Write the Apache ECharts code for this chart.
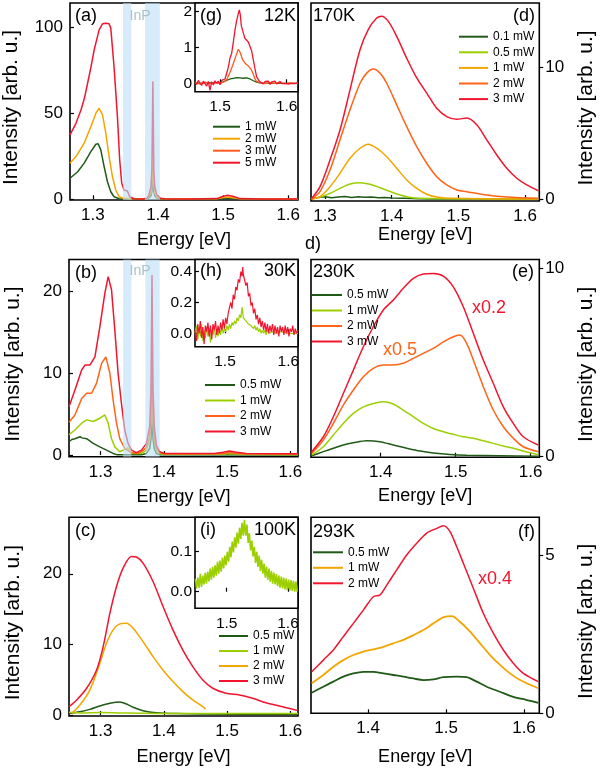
<!DOCTYPE html>
<html><head><meta charset="utf-8">
<script src="https://cdn.jsdelivr.net/npm/echarts@6/dist/echarts.min.js"></script>
<style>html,body{margin:0;padding:0;background:#fff}#c{width:600px;height:769px}</style>
</head><body><div id="c"></div>
<script>
// ---------- DATA (energy [eV], intensity [arb. u.]) ----------
// (a) 12 K main
const a_1mW = [[1.265,12.2],[1.2768,16],[1.2868,21],[1.297,27.7],[1.3047,32],[1.3082,32.2],[1.3123,28.7],[1.3174,19],[1.3225,10.2],[1.3276,4.4],[1.3326,1.5],[1.3403,0.3],[1.3836,0.2],[1.3862,0.8],[1.3892,2],[1.3907,4.5],[1.3922,13.8],[1.3937,4.5],[1.3952,2],[1.3982,0.8],[1.4039,0.2],[1.49,0.2],[1.5058,0.8],[1.5261,0.2],[1.615,0.1]];
const a_2mW = [[1.265,20.9],[1.2742,24.8],[1.2868,32.6],[1.297,42.2],[1.3047,50],[1.3097,52.9],[1.3149,49],[1.32,38.4],[1.325,24.8],[1.3302,13.1],[1.3352,5.4],[1.3403,1.5],[1.3455,0.8],[1.3479,1.0],[1.3555,0.3],[1.3836,0.3],[1.3862,1.2],[1.3892,3.5],[1.3907,8],[1.3922,27.5],[1.3937,8],[1.3952,3.5],[1.3982,1.2],[1.4039,0.3],[1.49,0.3],[1.5058,1.4],[1.5261,0.3],[1.615,0.2]];
const a_5mW = [[1.265,37.4],[1.274,44],[1.2818,51.9],[1.287,58.5],[1.292,67.4],[1.297,76.5],[1.3021,86.8],[1.3097,98.4],[1.3149,101.9],[1.32,102.3],[1.325,101.9],[1.3276,99.4],[1.3326,77],[1.3378,48],[1.3413,22.8],[1.3444,9.4],[1.3479,5.4],[1.3531,4.8],[1.3566,1.5],[1.3632,0.3],[1.375,0.2],[1.3836,0.6],[1.3862,2.5],[1.3892,7],[1.3907,17],[1.3922,68.5],[1.3937,17],[1.3952,7],[1.3982,2.5],[1.4039,0.6],[1.41,0.3],[1.45,0.2],[1.4905,0.4],[1.498,1.5],[1.5058,2.3],[1.515,1.8],[1.5261,0.4],[1.56,0.2],[1.615,0.2]];
// (g) 12 K inset
const g_1mW = [[1.4625,0.0],[1.48,0.01],[1.5,0.02],[1.505,0.04],[1.51,0.08],[1.515,0.12],[1.52,0.14],[1.525,0.16],[1.53,0.15],[1.535,0.14],[1.54,0.15],[1.545,0.12],[1.55,0.07],[1.555,0.03],[1.56,0.01],[1.58,0.0],[1.617,0.0]];
const g_3mW = [[1.4625,0.02],[1.47,-0.02],[1.4775,0.03],[1.485,-0.01],[1.4925,0.02],[1.5,0.0],[1.505,0.03],[1.51,0.1],[1.515,0.3],[1.52,0.55],[1.5245,0.8],[1.5275,0.95],[1.5305,0.85],[1.534,0.65],[1.538,0.55],[1.5425,0.48],[1.547,0.38],[1.55,0.25],[1.5525,0.12],[1.555,0.05],[1.56,0.02],[1.5675,-0.01],[1.575,0.02],[1.5825,0.0],[1.59,0.02],[1.5975,-0.01],[1.605,0.01],[1.6125,0.0],[1.617,0.01]];
const g_5mW = [[1.4625,0.05],[1.465,-0.03],[1.4675,0.08],[1.47,0.0],[1.4725,-0.06],[1.475,0.06],[1.4775,0.02],[1.48,-0.08],[1.4825,0.05],[1.485,-0.2],[1.4875,0.04],[1.49,-0.05],[1.4925,0.07],[1.495,0.0],[1.4975,0.06],[1.5,-0.04],[1.5025,0.08],[1.505,0.03],[1.5075,0.12],[1.51,0.28],[1.5125,0.45],[1.515,0.7],[1.5175,0.84],[1.52,1.15],[1.5225,1.49],[1.525,1.75],[1.5275,1.95],[1.529,2.05],[1.5305,1.9],[1.532,1.6],[1.535,1.4],[1.5375,1.25],[1.54,1.2],[1.5425,1.15],[1.545,1.1],[1.5475,0.9],[1.55,0.65],[1.5525,0.4],[1.555,0.18],[1.5575,0.1],[1.56,0.04],[1.5625,0.08],[1.565,-0.02],[1.5675,0.05],[1.57,0.0],[1.5725,0.06],[1.575,-0.03],[1.5775,0.04],[1.58,0.01],[1.5825,0.06],[1.585,-0.02],[1.5875,0.03],[1.59,0.05],[1.5925,-0.01],[1.595,0.04],[1.5975,0.0],[1.6,0.05],[1.6025,-0.02],[1.605,0.03],[1.6075,0.0],[1.61,0.04],[1.6125,-0.01],[1.617,0.02]];
// (b) 30 K main
const b_05mW = [[1.25,1.63],[1.2545,1.9],[1.2594,2.0],[1.262,2.15],[1.2673,2.24],[1.2705,2.1],[1.2779,2.0],[1.2883,1.43],[1.2988,1.0],[1.3093,0.6],[1.3198,0.2],[1.3251,0.05],[1.3645,0.05],[1.3724,0.2],[1.3776,0.8],[1.3796,2.0],[1.3812,5.3],[1.3828,2.0],[1.3848,0.8],[1.3881,0.2],[1.3933,0.05],[1.612,0.02]];
const b_1mW = [[1.25,2.5],[1.2594,3.06],[1.27,3.9],[1.2779,4.3],[1.2883,4.1],[1.2988,4.5],[1.3067,4.9],[1.3119,3.9],[1.3172,2.0],[1.3224,1.0],[1.3303,0.4],[1.3382,0.7],[1.3434,0.9],[1.346,0.5],[1.3487,0.2],[1.3645,0.2],[1.3724,0.6],[1.3776,1.8],[1.3796,4],[1.3812,10.8],[1.3828,4],[1.3848,1.8],[1.3881,0.6],[1.3933,0.2],[1.4012,0.1],[1.49,0.1],[1.5035,0.2],[1.52,0.1],[1.612,0.05]];
const b_2mW = [[1.25,4.0],[1.2594,4.9],[1.27,6.9],[1.2779,7.55],[1.2857,7.55],[1.2936,8.8],[1.3015,11.2],[1.3083,12.0],[1.3146,10.0],[1.3198,6.7],[1.3251,3.9],[1.3303,2.0],[1.3382,0.8],[1.3487,0.3],[1.3565,0.2],[1.3645,0.4],[1.3724,0.9],[1.3776,2.2],[1.3796,4.5],[1.3812,11.3],[1.3828,4.5],[1.3848,2.2],[1.3881,0.8],[1.3933,0.3],[1.4012,0.15],[1.49,0.15],[1.5035,0.3],[1.52,0.15],[1.612,0.1]];
const b_3mW = [[1.25,5.9],[1.2594,7.96],[1.27,10.4],[1.2752,11.0],[1.2831,11.0],[1.291,12.0],[1.2988,15.7],[1.3067,19.8],[1.3119,21.8],[1.3172,20.2],[1.3224,15.3],[1.3276,10],[1.3329,6.3],[1.3382,3.06],[1.3434,1.43],[1.3487,0.6],[1.3565,0.3],[1.3645,0.6],[1.3724,1.4],[1.3776,3.5],[1.3796,8],[1.3812,22],[1.3828,8],[1.3848,3.5],[1.3881,1.2],[1.3933,0.4],[1.4012,0.2],[1.48,0.2],[1.4935,0.35],[1.5035,0.5],[1.515,0.35],[1.53,0.2],[1.612,0.15]];
// (h) 30 K inset
const h_1mW = [[1.4526,0.0],[1.455,0.05],[1.457,-0.04],[1.459,0.03],[1.461,-0.02],[1.463,0.06],[1.465,-0.05],[1.467,0.02],[1.469,-0.03],[1.471,0.04],[1.473,-0.02],[1.475,0.03],[1.477,-0.06],[1.479,0.02],[1.481,-0.01],[1.483,0.04],[1.485,-0.03],[1.487,0.02],[1.489,-0.02],[1.491,0.03],[1.493,-0.01],[1.495,0.04],[1.497,0.0],[1.499,0.03],[1.501,0.01],[1.503,0.05],[1.505,0.02],[1.507,0.06],[1.509,0.03],[1.511,0.07],[1.513,0.05],[1.515,0.08],[1.517,0.06],[1.519,0.1],[1.521,0.08],[1.523,0.12],[1.525,0.1],[1.527,0.17],[1.529,0.1],[1.531,0.11],[1.533,0.08],[1.535,0.09],[1.537,0.06],[1.539,0.07],[1.541,0.05],[1.543,0.06],[1.545,0.03],[1.547,0.05],[1.549,0.02],[1.551,0.04],[1.553,0.01],[1.555,0.03],[1.557,0.0],[1.559,0.02],[1.561,0.0],[1.563,0.02],[1.565,-0.01],[1.567,0.02],[1.57,0.0],[1.575,0.01],[1.58,0.0],[1.59,0.01],[1.6,0.0],[1.6153,0.0]];
const h_3mW = [[1.4526,0.02],[1.455,-0.05],[1.457,0.06],[1.459,0.0],[1.461,0.08],[1.463,-0.03],[1.465,0.04],[1.467,-0.07],[1.469,0.05],[1.471,0.01],[1.473,0.07],[1.475,-0.02],[1.477,0.05],[1.479,-0.04],[1.481,0.06],[1.483,0.02],[1.485,0.08],[1.487,-0.01],[1.489,0.05],[1.491,0.0],[1.493,0.07],[1.495,0.02],[1.497,0.09],[1.499,0.03],[1.501,0.1],[1.503,0.06],[1.505,0.13],[1.507,0.12],[1.509,0.2],[1.511,0.16],[1.513,0.25],[1.515,0.22],[1.517,0.3],[1.519,0.28],[1.521,0.35],[1.523,0.33],[1.525,0.4],[1.527,0.37],[1.528,0.43],[1.529,0.38],[1.531,0.39],[1.533,0.31],[1.535,0.33],[1.537,0.24],[1.539,0.26],[1.541,0.18],[1.543,0.2],[1.545,0.13],[1.547,0.16],[1.549,0.09],[1.551,0.12],[1.553,0.06],[1.555,0.1],[1.557,0.04],[1.559,0.08],[1.561,0.02],[1.563,0.07],[1.565,0.01],[1.567,0.06],[1.569,0.0],[1.571,0.05],[1.573,0.01],[1.575,0.06],[1.577,-0.01],[1.579,0.05],[1.581,0.0],[1.583,0.04],[1.585,-0.02],[1.587,0.05],[1.589,0.01],[1.591,0.04],[1.593,-0.01],[1.595,0.05],[1.597,0.0],[1.599,0.04],[1.601,-0.02],[1.603,0.03],[1.605,0.01],[1.607,0.05],[1.609,-0.01],[1.611,0.03],[1.613,0.0],[1.6153,0.02]];
// (c) 100 K main
const c_05mW = [[1.25,0.24],[1.2673,0.47],[1.2831,0.8],[1.2988,1.28],[1.3146,1.66],[1.3303,1.84],[1.3409,1.56],[1.3513,1.09],[1.367,0.61],[1.388,0.33],[1.42,0.2],[1.46,0.15],[1.612,0.1]];
const c_1mW = [[1.25,0.4],[1.27,0.3],[1.3,0.35],[1.33,0.3],[1.36,0.25],[1.4,0.2],[1.45,0.2],[1.5,0.22],[1.55,0.2],[1.612,0.2]];
const c_2mW = [[1.2543,0.24],[1.2673,1.42],[1.2831,3.55],[1.2988,7.33],[1.3094,10.2],[1.3198,12.06],[1.3303,12.9],[1.3409,13.0],[1.3513,12.3],[1.367,10.4],[1.3828,8.27],[1.3985,6.38],[1.4143,4.73],[1.43,3.31],[1.4457,2.13],[1.4615,1.18],[1.4657,0.8]];
const c_3mW = [[1.25,1.18],[1.2621,2.13],[1.2779,3.79],[1.2936,6.38],[1.304,9.69],[1.3146,14.4],[1.3251,18.2],[1.3355,20.8],[1.3487,22.45],[1.3566,22.37],[1.367,21.5],[1.3828,18.9],[1.3985,15.4],[1.4143,12.06],[1.43,9.2],[1.4457,6.85],[1.4615,4.96],[1.4772,3.79],[1.4983,3.08],[1.5193,2.84],[1.5402,2.37],[1.5613,1.74],[1.5823,1.28],[1.6085,0.71],[1.612,0.66]];
// (i) 100 K inset
const i_1mW = [[1.449,0.032],[1.451,0.008],[1.453,0.035],[1.455,0.01],[1.457,0.045],[1.459,0.012],[1.461,0.04],[1.463,0.018],[1.465,0.047],[1.467,0.02],[1.469,0.05],[1.471,0.026],[1.473,0.058],[1.475,0.03],[1.477,0.062],[1.479,0.035],[1.481,0.066],[1.483,0.04],[1.485,0.075],[1.487,0.045],[1.489,0.078],[1.491,0.05],[1.493,0.085],[1.495,0.058],[1.497,0.09],[1.499,0.066],[1.501,0.1],[1.503,0.075],[1.505,0.112],[1.507,0.086],[1.509,0.125],[1.511,0.098],[1.513,0.136],[1.515,0.11],[1.517,0.148],[1.519,0.12],[1.521,0.16],[1.523,0.132],[1.525,0.172],[1.527,0.14],[1.529,0.18],[1.531,0.14],[1.533,0.168],[1.535,0.122],[1.537,0.146],[1.539,0.103],[1.541,0.128],[1.543,0.088],[1.545,0.112],[1.547,0.072],[1.549,0.1],[1.551,0.062],[1.553,0.09],[1.555,0.052],[1.557,0.08],[1.559,0.045],[1.561,0.07],[1.563,0.035],[1.565,0.063],[1.567,0.03],[1.569,0.058],[1.571,0.025],[1.573,0.052],[1.575,0.02],[1.577,0.048],[1.579,0.018],[1.581,0.044],[1.583,0.014],[1.585,0.04],[1.587,0.01],[1.589,0.038],[1.591,0.008],[1.593,0.035],[1.595,0.006],[1.597,0.033],[1.599,0.004],[1.601,0.03],[1.603,0.003],[1.605,0.029],[1.607,0.002],[1.609,0.027],[1.611,0.0],[1.613,0.025],[1.615,0.0]];
// (d) 170 K
const d_01mW = [[1.28,0.05],[1.29,0.12],[1.3,0.18],[1.31,0.1],[1.32,0.16],[1.33,0.2],[1.34,0.12],[1.35,0.17],[1.36,0.13],[1.37,0.15],[1.38,0.1],[1.39,0.12],[1.4,0.08],[1.42,0.06],[1.44,0.03],[1.46,0.01],[1.62,0.0]];
const d_05mW = [[1.28,0.0],[1.2925,0.13],[1.3075,0.43],[1.3225,0.81],[1.3375,1.14],[1.3525,1.24],[1.3675,1.12],[1.3825,0.86],[1.4025,0.48],[1.4225,0.18],[1.4425,0.05],[1.62,0.0]];
const d_1mW = [[1.28,0.0],[1.2925,0.18],[1.3075,0.94],[1.3225,1.96],[1.3375,3.1],[1.3525,3.86],[1.365,4.17],[1.3775,3.86],[1.3925,3.22],[1.4075,2.34],[1.4225,1.45],[1.4375,0.81],[1.4525,0.36],[1.4675,0.15],[1.49,0.05],[1.62,0.0]];
const d_2mW = [[1.28,0.0],[1.2925,0.56],[1.3075,2.2],[1.3225,4.5],[1.3375,6.78],[1.3525,8.8],[1.3625,9.57],[1.3725,9.88],[1.3825,9.57],[1.3925,8.8],[1.4075,7.16],[1.4225,5.5],[1.4375,3.98],[1.4525,2.72],[1.4675,1.7],[1.4825,1.07],[1.4975,0.69],[1.5125,0.56],[1.5425,0.3],[1.5725,0.15],[1.62,0.05]];
const d_3mW = [[1.28,0.05],[1.2925,0.94],[1.3075,2.97],[1.3225,5.25],[1.3375,8.3],[1.3525,11.35],[1.365,12.9],[1.3775,13.76],[1.385,13.9],[1.395,13.5],[1.4075,12.36],[1.4225,10.7],[1.4375,9.2],[1.4525,8.05],[1.4675,6.9],[1.4825,6.27],[1.4975,6.07],[1.5125,6.15],[1.5275,5.64],[1.5425,4.5],[1.5575,3.35],[1.5725,2.34],[1.5875,1.58],[1.6025,1.07],[1.62,0.63]];
// (e) 230 K
const e_05mW = [[1.308,0.05],[1.3235,0.27],[1.3368,0.45],[1.3501,0.62],[1.3635,0.74],[1.3813,0.85],[1.399,0.8],[1.4168,0.62],[1.4347,0.45],[1.4524,0.3],[1.4701,0.2],[1.4924,0.12],[1.5147,0.08],[1.559,0.05],[1.6101,0.02]];
const e_1mW = [[1.308,0.1],[1.3235,0.53],[1.3368,1.15],[1.3501,1.77],[1.3635,2.3],[1.3768,2.65],[1.3901,2.83],[1.4035,2.92],[1.4168,2.8],[1.4301,2.48],[1.4435,2.12],[1.4568,1.77],[1.4701,1.5],[1.4835,1.33],[1.4968,1.19],[1.5101,1.06],[1.5235,0.98],[1.5368,0.85],[1.5501,0.71],[1.5635,0.57],[1.5768,0.45],[1.5901,0.3],[1.6101,0.1]];
const e_2mW = [[1.308,0.18],[1.3235,0.89],[1.3368,1.77],[1.3501,2.74],[1.3635,3.54],[1.3768,4.25],[1.3901,4.69],[1.4035,4.87],[1.4168,4.87],[1.4301,4.96],[1.4435,5.22],[1.4568,5.49],[1.4701,5.75],[1.4835,6.1],[1.4968,6.37],[1.5057,6.46],[1.5146,6.02],[1.5235,5.13],[1.5368,3.72],[1.5501,2.48],[1.5635,1.59],[1.5768,0.98],[1.5901,0.53],[1.6101,0.27]];
const e_3mW = [[1.308,0.27],[1.3235,1.06],[1.3368,2.12],[1.3501,3.36],[1.3635,4.6],[1.3768,5.84],[1.3901,6.9],[1.4035,7.79],[1.4168,8.32],[1.4301,8.94],[1.4435,9.47],[1.4568,9.7],[1.4701,9.73],[1.4835,9.59],[1.4968,9.02],[1.5101,7.96],[1.5235,6.55],[1.5368,5.13],[1.5501,3.9],[1.5635,2.65],[1.5768,1.77],[1.5901,1.06],[1.6101,0.62]];
// (f) 293 K
const f_05mW = [[1.3278,0.65],[1.3427,0.84],[1.3555,1.0],[1.3683,1.16],[1.3812,1.26],[1.394,1.31],[1.4068,1.31],[1.4197,1.26],[1.4325,1.21],[1.4453,1.16],[1.4581,1.1],[1.471,1.05],[1.4838,1.07],[1.4965,1.14],[1.5137,1.16],[1.5265,1.14],[1.5393,1.0],[1.5522,0.84],[1.5692,0.68],[1.5863,0.52],[1.6035,0.42],[1.6183,0.33]];
const f_1mW = [[1.3278,0.95],[1.3427,1.21],[1.3555,1.47],[1.3683,1.68],[1.3812,1.84],[1.394,1.95],[1.4068,2.02],[1.4197,2.1],[1.4325,2.21],[1.4453,2.32],[1.4581,2.47],[1.471,2.63],[1.4838,2.84],[1.4965,3.03],[1.5073,3.07],[1.5179,2.89],[1.5308,2.58],[1.5436,2.21],[1.5564,1.84],[1.5692,1.53],[1.582,1.26],[1.5949,1.05],[1.6183,0.79]];
const f_2mW = [[1.3278,1.31],[1.3427,1.68],[1.3555,2.0],[1.3683,2.42],[1.3812,2.84],[1.394,3.26],[1.4068,3.68],[1.4154,3.74],[1.424,4.05],[1.4368,4.53],[1.4496,5.0],[1.4624,5.37],[1.4753,5.69],[1.4881,5.84],[1.4965,5.92],[1.5051,5.74],[1.5137,5.26],[1.5222,4.74],[1.535,3.95],[1.5478,3.16],[1.5606,2.53],[1.5735,2.0],[1.5863,1.58],[1.5991,1.26],[1.6183,1.0]];

// InP shaded bands [from, to] in eV
const inpBands_a = [[1.3464,1.3592],[1.38,1.4029]];
const inpBands_b = [[1.3355,1.3487],[1.3708,1.3933]];

// tick values
const xTicksMain = [1.3,1.4,1.5,1.6];
const xTicksHot = [1.4,1.5,1.6];
const xTicksInset = [1.5,1.6];
const yTicks_a = [0,50,100];
const yTicks_g = [0,1,2];
const yTicks_bc = [0,10,20];
const yTicks_h = [0,0.2,0.4];
const yTicks_i = [0,0.1];
const yTicks_de = [0,10];
const yTicks_f = [0,5];

// ---------- STYLE ----------
const FONT = "'Liberation Sans', Arial, Helvetica, sans-serif";
const DG='#1f5a16', YG='#9ccf00', YO='#f3a500', OR='#ff6418', RD='#f2152e', OR3='#ff5a1e';

const gridBox = [
  [69,3,229,197],[195,3,103,88.7],
  [69,259.5,229,197.2],[195,259.5,103,87.2],
  [69,517.3,229,198.7],[195,517.3,103,91],
  [311,3,228.3,198],[311,259.5,228.3,197.8],[311,517.3,228.3,196]
];
const grids = gridBox.map((g,i)=>({left:g[0],top:g[1],width:g[2],height:g[3],show:true,
  borderColor:'#000',borderWidth:1.6,backgroundColor:(i===1||i===3||i===5)?'#fff':'transparent'}));

function xAx(gi,min,max,ticks,fs,gap,named){
  return {type:'value',gridIndex:gi,min,max,axisLine:{show:false},splitLine:{show:false},
    axisTick:{inside:true,length:4,customValues:ticks,lineStyle:{color:'#000',width:1.2}},
    axisLabel:{customValues:ticks,fontSize:fs,color:'#000',margin:7,fontFamily:FONT,formatter:v=>v.toFixed(1)},
    name:named?'Energy [eV]':'',nameLocation:'middle',nameGap:gap,
    nameTextStyle:{fontSize:18,color:'#000',fontFamily:FONT}};
}
function yAx(gi,min,max,ticks,fs,pos,gap,named,fmt,margin){
  return {type:'value',gridIndex:gi,min,max,position:pos,axisLine:{show:false},splitLine:{show:false},
    axisTick:{inside:pos==='left',length:4,customValues:ticks,lineStyle:{color:'#000',width:1.2}},
    axisLabel:{customValues:ticks,fontSize:fs,color:'#000',margin:margin,fontFamily:FONT,formatter:fmt||(v=>String(v))},
    name:named?'Intensity [arb. u.]':'',nameLocation:'middle',nameGap:gap,
    nameTextStyle:{fontSize:21,color:'#000',fontFamily:FONT,padding:[0,12,0,0]}};
}
const f1 = v=>v.toFixed(1);
const xAxes = [
  xAx(0,1.265,1.615,xTicksMain,17,31,true),
  xAx(1,1.4625,1.617,xTicksInset,15.5,0,false),
  xAx(2,1.25,1.612,xTicksMain,17,31,true),
  xAx(3,1.4526,1.6153,xTicksInset,15.5,0,false),
  xAx(4,1.25,1.612,xTicksMain,17,32,true),
  xAx(5,1.4483,1.6163,xTicksInset,15.5,0,false),
  xAx(6,1.279,1.6213,xTicksMain,17,23,true),
  xAx(7,1.307,1.6115,xTicksHot,17,30,true),
  xAx(8,1.3269,1.6196,xTicksHot,17,35,true)
];
const yAxes = [
  yAx(0,-0.4,114,yTicks_a,17,'left',48,true,null,7),
  yAx(1,-0.235,2.24,yTicks_g,15.5,'left',0,false,null,3),
  yAx(2,-0.2,23.9,yTicks_bc,17,'left',45,true,null,7),
  yAx(3,-0.087,0.479,yTicks_h,15.5,'left',0,false,f1,3),
  yAx(4,-0.14,28,yTicks_bc,17,'left',45,true,null,7),
  yAx(5,-0.0415,0.186,yTicks_i,15.5,'left',0,false,f1,3),
  yAx(6,-0.15,14.9,yTicks_de,17,'right',36,true,null,6),
  yAx(7,-0.03,10.47,yTicks_de,17,'right',36,true,null,6),
  yAx(8,0,6.19,yTicks_f,17,'right',36,true,null,6)
];

function ln(name,data,color,gi,w,smooth){
  return {type:'line',name,data,xAxisIndex:gi,yAxisIndex:gi,symbol:'none',showSymbol:false,
    smooth:smooth||false,lineStyle:{color,width:w||1.5},itemStyle:{color},silent:true};
}
function bandSeries(gi,bands){
  return {type:'line',data:[],xAxisIndex:gi,yAxisIndex:gi,z:10,silent:true,symbol:'none',
    markArea:{silent:true,z:10,itemStyle:{color:'rgba(188,224,246,0.6)'},
      data:bands.map(b=>[{xAxis:b[0]},{xAxis:b[1]}])}};
}
const S=0.3;
const series = [
  ln('a|1 mW',a_1mW,DG,0), ln('a|2 mW',a_2mW,YO,0), ln('a|5 mW',a_5mW,RD,0), bandSeries(0,inpBands_a),
  ln('a|1 mW',g_1mW,DG,1,1.3), ln('a|3 mW',g_3mW,OR3,1,1.3), ln('a|5 mW',g_5mW,RD,1,1.3),
  ln('b|0.5 mW',b_05mW,DG,2), ln('b|1 mW',b_1mW,YG,2), ln('b|2 mW',b_2mW,OR,2), ln('b|3 mW',b_3mW,RD,2), bandSeries(2,inpBands_b),
  ln('b|1 mW',h_1mW,YG,3,1.2), ln('b|3 mW',h_3mW,RD,3,1.2),
  ln('c|0.5 mW',c_05mW,DG,4,1.5,S), ln('c|1 mW',c_1mW,YG,4,1.5,S), ln('c|2 mW',c_2mW,YO,4,1.5,S), ln('c|3 mW',c_3mW,RD,4,1.5,S),
  ln('c|1 mW',i_1mW,YG,5,1.6),
  ln('d|0.1 mW',d_01mW,DG,6), ln('d|0.5 mW',d_05mW,YG,6,1.5,S), ln('d|1 mW',d_1mW,YO,6,1.5,S), ln('d|2 mW',d_2mW,OR,6,1.5,S), ln('d|3 mW',d_3mW,RD,6,1.5,S),
  ln('e|0.5 mW',e_05mW,DG,7,1.5,S), ln('e|1 mW',e_1mW,YG,7,1.5,S), ln('e|2 mW',e_2mW,OR,7,1.5,S), ln('e|3 mW',e_3mW,RD,7,1.5,S),
  ln('f|0.5 mW',f_05mW,DG,8,1.8,S), ln('f|1 mW',f_1mW,YO,8,1.8,S), ln('f|2 mW',f_2mW,RD,8,1.5,S)
];

function leg(left,top,w,gap,names){
  return {show:true,orient:'vertical',left,top,padding:0,itemWidth:w,itemHeight:2,itemGap:gap,icon:'rect',
    selectedMode:false,data:names,formatter:n=>n.split('|')[1],
    textStyle:{fontSize:12,lineHeight:12,color:'#000',fontFamily:FONT}};
}
const legends = [
  leg(213,120.7,27,0,['a|1 mW','a|2 mW','a|3 mW','a|5 mW']),
  leg(205,379,30,3.5,['b|0.5 mW','b|1 mW','b|2 mW','b|3 mW']),
  leg(219,630,29,3,['c|0.5 mW','c|1 mW','c|2 mW','c|3 mW']),
  leg(459,30.7,29,3.6,['d|0.1 mW','d|0.5 mW','d|1 mW','d|2 mW','d|3 mW']),
  leg(312,289,30,3.5,['e|0.5 mW','e|1 mW','e|2 mW','e|3 mW']),
  leg(313,546.3,30,3.5,['f|0.5 mW','f|1 mW','f|2 mW'])
];

function txt(s,x,y,align,color,fs){
  return {type:'text',z:100,silent:true,style:{text:s,x,y,textAlign:align||'left',textVerticalAlign:'middle',
    fill:color||'#000',font:(fs||18)+'px '+FONT}};
}
const INP='#a7c2c8';
const graphics = [
  txt('(a)',75,16), txt('InP',140,16,'center',INP,14), txt('(g)',200,16), txt('12K',296,16,'right'),
  txt('(b)',75,273), txt('InP',140,271,'center',INP,14), txt('(h)',200,271), txt('30K',296,271,'right'),
  txt('(c)',75,531), txt('(i)',200,530), txt('100K',296,530,'right'),
  txt('170K',313,16), txt('(d)',535,16,'right'),
  txt('d)',305,244),
  txt('230K',313,272), txt('(e)',534,272,'right'),
  txt('x0.2',472,308,'left',RD), txt('x0.5',383,350,'left',OR),
  txt('293K',313,532), txt('(f)',535,532,'right'),
  txt('x0.4',478,579,'left',RD)
];

const chart = echarts.init(document.getElementById('c'),null,{renderer:'canvas'});
chart.setOption({animation:false,backgroundColor:'#fff',grid:grids,xAxis:xAxes,yAxis:yAxes,
  series,legend:legends,graphic:graphics});
</script></body></html>
